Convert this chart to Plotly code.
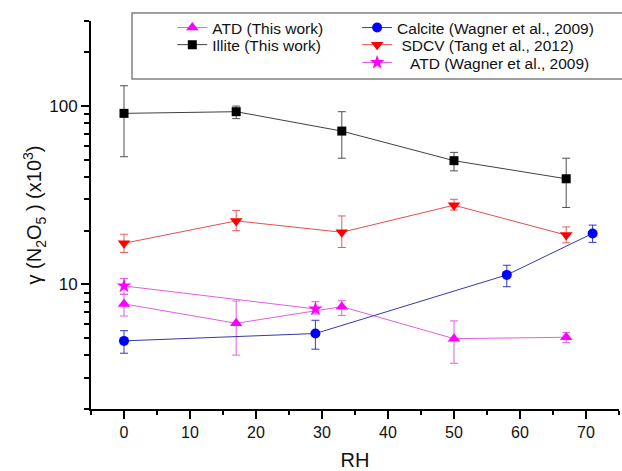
import plotly.graph_objects as go

# ---- data ----
atd_rh = [0, 17, 33, 50, 67]
atd_y = [7.77, 6.05, 7.5, 4.96, 5.05]
atd_hi = [8.8, 8.07, 8.1, 6.24, 5.36]
atd_lo = [6.65, 4.01, 6.7, 3.61, 4.71]

illite_rh = [0, 17, 33, 50, 67]
illite_y = [91, 93, 72.4, 49.4, 39.1]
illite_hi = [130, 100, 93, 55, 51]
illite_lo = [52, 85, 51, 43.3, 27]

calcite_rh = [0, 29, 58, 71]
calcite_y = [4.82, 5.3, 11.3, 19.3]
calcite_hi = [5.5, 6.29, 12.8, 21.5]
calcite_lo = [4.11, 4.33, 9.7, 17.2]

sdcv_rh = [0, 17, 33, 50, 67]
sdcv_y = [17.0, 22.7, 19.6, 27.8, 18.9]
sdcv_hi = [19.1, 26.0, 24.2, 30.0, 21.0]
sdcv_lo = [15.1, 20.0, 16.1, 26.1, 17.1]

atdw_rh = [0, 29]
atdw_y = [9.8, 7.28]
atdw_hi = [10.8, 8.0]
atdw_lo = [8.8, 6.82]

x_ticks = [0, 10, 20, 30, 40, 50, 60, 70]
y_ticks = [10, 100]
y_minor = [2, 3, 4, 5, 6, 7, 8, 9, 20, 30, 40, 50, 60, 70, 80, 90, 200, 300]

FONT = "Liberation Sans, Arial, sans-serif"
NB = "\u00a0"


def err(y, hi, lo):
    return dict(type="data", symmetric=False,
                array=[h - v for h, v in zip(hi, y)],
                arrayminus=[v - l for v, l in zip(y, lo)])


def series(name, x, y, hi, lo, line_color, marker_color, symbol, size, err_color, legend):
    e = err(y, hi, lo)
    e.update(color=err_color, thickness=1, width=4)
    return go.Scatter(
        x=x, y=y, name=name, mode="lines+markers", showlegend=True,
        line=dict(color=line_color, width=1),
        marker=dict(color=marker_color, symbol=symbol, size=size, line=dict(width=0)),
        error_y=e, legend=legend,
    )


fig = go.Figure()
fig.add_trace(series("ATD (This work)", atd_rh, atd_y, atd_hi, atd_lo,
                     "#e060e0", "#ff00ff", "triangle-up", 11, "#e060e0", "legend"))
fig.add_trace(series("Illite (This work)", illite_rh, illite_y, illite_hi, illite_lo,
                     "#404040", "#000000", "square", 9, "#505050", "legend2"))
fig.add_trace(series("Calcite (Wagner et al., 2009)", calcite_rh, calcite_y, calcite_hi, calcite_lo,
                     "#3838a8", "#0000ff", "circle", 10, "#3838c0", "legend3"))
fig.add_trace(series(NB + "SDCV (Tang et al., 2012)", sdcv_rh, sdcv_y, sdcv_hi, sdcv_lo,
                     "#e05050", "#ff0000", "triangle-down", 11, "#e06060", "legend4"))
fig.add_trace(series(NB * 3 + "ATD (Wagner et al., 2009)", atdw_rh, atdw_y, atdw_hi, atdw_lo,
                     "#e060e0", "#ff00ff", "star", 11, "#e060e0", "legend5"))


def leg(x, y):
    return dict(x=x, y=y, xanchor="left", yanchor="middle", bgcolor="rgba(0,0,0,0)",
                font=dict(size=15.5), itemwidth=30, tracegroupgap=0, visible=True)


fig.update_layout(
    width=622, height=471,
    margin=dict(l=91, r=3, t=21, b=62),
    paper_bgcolor="white", plot_bgcolor="white",
    font=dict(family=FONT, color="#111111", size=16),
    showlegend=True,
    legend=leg(0.154, 0.982),
    legend2=leg(0.154, 0.938),
    legend3=leg(0.504, 0.982),
    legend4=leg(0.504, 0.938),
    legend5=leg(0.504, 0.892),
    shapes=[dict(type="rect", xref="paper", yref="paper",
                 x0=0.0777, x1=1.02, y0=0.8505, y1=1.0206,
                 line=dict(color="#808080", width=1.5), layer="above")],
)

fig.update_xaxes(
    range=[-5, 75], tickvals=x_ticks, ticks="outside", ticklen=8, tickwidth=1.5,
    tickcolor="black", showline=True, linecolor="black", linewidth=1.8,
    showgrid=False, zeroline=False, tickfont=dict(size=16),
    minor=dict(dtick=5, tick0=0, ticks="outside", ticklen=4, tickwidth=1.5, tickcolor="black"),
    title=dict(text="RH", font=dict(size=20), standoff=13),
)
fig.update_yaxes(
    type="log", range=[0.30103, 2.4771], tickvals=y_ticks, ticktext=[str(v) for v in y_ticks],
    ticks="outside", ticklen=8, tickwidth=1.5, tickcolor="black",
    showline=True, linecolor="black", linewidth=1.8, showgrid=False, zeroline=False,
    tickfont=dict(size=17),
    minor=dict(tickmode="array", tickvals=y_minor, ticks="outside", ticklen=5,
               tickwidth=1.5, tickcolor="black"),
    title=dict(text="γ (N<sub>2</sub>O<sub>5</sub> ) (x10<sup>3</sup>)", font=dict(size=20), standoff=2),
)

fig.write_html("out.html")
